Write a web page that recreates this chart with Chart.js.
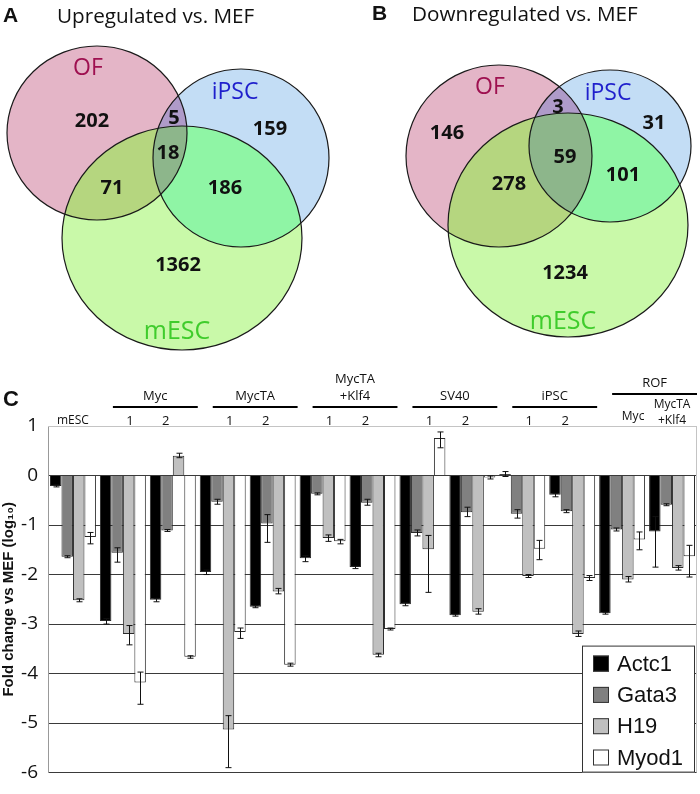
<!DOCTYPE html>
<html>
<head>
<meta charset="utf-8">
<script src="https://cdn.jsdelivr.net/npm/chart.js@4.4.1/dist/chart.umd.min.js"></script>
<style>
  html, body { margin: 0; padding: 0; background: #fff; }
  #wrap { position: relative; width: 700px; height: 794px; overflow: hidden; }
  canvas { position: absolute; }
  .t { position: absolute; white-space: nowrap; line-height: 24px; color: #111; }
  .panel { font-family: "Liberation Sans", Arial, sans-serif; font-weight: bold; font-size: 21px; }
  .title { font-family: "Open Sans", sans-serif; font-size: 20.7px; }
</style>
</head>
<body>
<div id="wrap">
  <canvas id="vennUp" style="left:0;top:0" width="350" height="370"></canvas>
  <canvas id="vennDown" style="left:350px;top:0" width="350" height="370"></canvas>
  <canvas id="bars" style="left:0;top:370px" width="700" height="424"></canvas>
  <div class="t panel" style="left:3px;top:3px">A</div>
  <div class="t title" style="left:57px;top:3px">Upregulated vs. MEF</div>
  <div class="t panel" style="left:372px;top:1px">B</div>
  <div class="t title" style="left:412px;top:1px">Downregulated vs. MEF</div>
</div>
<script>
// ---- Venn data (A: up, B: down) ----
const setNames = ["OF", "iPSC", "mESC"];
const regions = ["OF only", "iPSC only", "mESC only", "OF+iPSC", "OF+mESC", "iPSC+mESC", "all"];
const upCounts = [202, 159, 1362, 5, 71, 186, 18];
const downCounts = [146, 31, 1234, 3, 278, 101, 59];

// ---- bar chart data (log10 fold change vs MEF) ----
const groups = ["", "Myc", "Myc", "MycTA", "MycTA", "MycTA\n+Klf4", "MycTA\n+Klf4",
  "SV40", "SV40", "iPSC", "iPSC", "ROF", "ROF"];
const subLabels = ["mESC", "1", "2", "1", "2", "1", "2", "1", "2", "1", "2", "Myc", "MycTA\n+Klf4"];
const categories = subLabels.map((s, i) => (groups[i] + " " + s).trim());
const genes = ["Actc1", "Gata3", "H19", "Myod1"];
const actc1 = [-0.21, -2.94, -2.51, -1.95, -2.65, -1.67, -1.85, -2.6, -2.82, 0.03, -0.39, -2.78, -1.13];
const gata3 = [-1.64, -1.56, -1.11, -0.53, -0.97, -0.37, -0.55, -1.16, -0.74, -0.77, -0.72, -1.09, -0.59];
const h19 = [-2.52, -3.2, 0.4, -5.13, -2.34, -1.26, -3.62, -1.49, -2.75, -2.03, -3.2, -2.1, -1.87];
const myod1 = [-1.24, -4.18, -3.66, -3.16, -3.82, -1.33, -3.1, 0.76, -0.04, -1.48, -2.07, -1.29, -1.63];
// error bars as [below, above]
const errActc1 = [[0.02, 0.02], [0.06, 0.05], [0.04, 0.03], [0.05, 0.04], [0.02, 0.02], [0.07, 0.05],
  [0.03, 0.02], [0.03, 0.03], [0.02, 0.02], [0.05, 0.05], [0.04, 0.03], [0.02, 0.02], [0.72, 0.3]];
const errGata3 = [[0.02, 0.02], [0.19, 0.1], [0.02, 0.02], [0.05, 0.05], [0.38, 0.18], [0.02, 0.02],
  [0.05, 0.07], [0.06, 0.06], [0.09, 0.1], [0.09, 0.08], [0.03, 0.03], [0.03, 0.03], [0.02, 0.02]];
const errH19 = [[0.03, 0.03], [0.22, 0.17], [0.04, 0.05], [0.77, 0.28], [0.05, 0.06], [0.07, 0.06],
  [0.04, 0.03], [0.87, 0.28], [0.05, 0.06], [0.03, 0.03], [0.05, 0.06], [0.05, 0.06], [0.04, 0.05]];
const errMyod1 = [[0.14, 0.09], [0.44, 0.21], [0.03, 0.02], [0.13, 0.08], [0.03, 0.03], [0.05, 0.04],
  [0.02, 0.02], [0.2, 0.12], [0.03, 0.03], [0.22, 0.17], [0.05, 0.05], [0.21, 0.15], [0.42, 0.22]];

// ---- Venn layout (canvas units) ----
const upCircles = [{ x: 97, y: 133, rx: 90, ry: 87 }, { x: 241, y: 158, rx: 88, ry: 89 }, { x: 182, y: 238, rx: 120, ry: 112 }];
const downCircles = [{ x: 149, y: 156, rx: 93, ry: 91 }, { x: 260, y: 146, rx: 81, ry: 76 }, { x: 218, y: 225, rx: 120, ry: 112 }];
const upPos = [[92, 121], [270, 129], [178, 265], [174, 118], [112, 188], [225, 188], [168, 153]];
const downPos = [[97, 133], [304, 123], [215, 273], [208, 107], [159, 184], [273, 175], [215, 157]];
const upNamePos = [[88, 68], [235, 92], [177, 332]];
const downNamePos = [[140, 87], [258, 93], [213, 322]];

const setFill = ["#e4b5c7", "#c3ddf5", "#c9f9a9"];
const pairFill = { "01": "#af9bc9", "02": "#b5d67f", "12": "#8ff5a5" };
const allFill = "#8db68b";
const nameColor = ["#9e1050", "#1f1fcc", "#3fcc2c"];
const nameSize = [23, 23, 25];

function vennPlugin(circles, namePos) {
  return {
    id: "venn",
    beforeDatasetsDraw(chart) {
      const { ctx, scales: { x, y } } = chart;
      const shapes = circles.map(c => {
        const cx = x.getPixelForValue(c.x), cy = y.getPixelForValue(c.y);
        return {
          cx, cy,
          rx: x.getPixelForValue(c.x + c.rx) - cx,
          ry: y.getPixelForValue(c.y + c.ry) - cy
        };
      });
      const path = s => { ctx.beginPath(); ctx.ellipse(s.cx, s.cy, s.rx, s.ry, 0, 0, Math.PI * 2); };
      ctx.save();
      shapes.forEach((s, i) => { path(s); ctx.fillStyle = setFill[i]; ctx.fill(); });
      [[0, 1], [0, 2], [1, 2]].forEach(([a, b]) => {
        ctx.save(); path(shapes[a]); ctx.clip();
        path(shapes[b]); ctx.fillStyle = pairFill["" + a + b]; ctx.fill();
        ctx.restore();
      });
      ctx.save(); path(shapes[0]); ctx.clip(); path(shapes[1]); ctx.clip();
      path(shapes[2]); ctx.fillStyle = allFill; ctx.fill();
      ctx.restore();
      ctx.strokeStyle = "#1a1a1a"; ctx.lineWidth = 1.2;
      shapes.forEach(s => { path(s); ctx.stroke(); });
      ctx.textAlign = "center"; ctx.textBaseline = "middle";
      setNames.forEach((n, i) => {
        ctx.font = nameSize[i] + 'px "Open Sans", sans-serif';
        ctx.fillStyle = nameColor[i];
        ctx.fillText(n, x.getPixelForValue(namePos[i][0]), y.getPixelForValue(namePos[i][1]));
      });
      ctx.restore();
    },
    afterDatasetsDraw(chart) {
      const { ctx } = chart;
      const ds = chart.data.datasets[0];
      ctx.save();
      ctx.font = 'bold 20px "Open Sans", sans-serif';
      ctx.fillStyle = "#111"; ctx.textAlign = "center"; ctx.textBaseline = "middle";
      chart.getDatasetMeta(0).data.forEach((pt, i) => ctx.fillText(String(ds.data[i].n), pt.x, pt.y));
      ctx.restore();
    }
  };
}

function vennChart(id, circles, counts, pos, namePos) {
  return new Chart(document.getElementById(id), {
    type: "scatter",
    data: {
      datasets: [{
        label: "regions",
        data: pos.map((p, i) => ({ x: p[0], y: p[1], n: counts[i], region: regions[i] })),
        pointRadius: 0
      }]
    },
    options: {
      responsive: false,
      animation: false,
      layout: { padding: 0 },
      plugins: { legend: { display: false }, tooltip: { enabled: false } },
      scales: {
        x: { type: "linear", min: 0, max: 350, display: false },
        y: { type: "linear", min: 0, max: 370, reverse: true, display: false }
      }
    },
    plugins: [vennPlugin(circles, namePos)]
  });
}

vennChart("vennUp", upCircles, upCounts, upPos, upNamePos);
vennChart("vennDown", downCircles, downCounts, downPos, downNamePos);

// ---- bar chart ----
const barColors = ["#000000", "#808080", "#c0c0c0", "#ffffff"];
const values = [actc1, gata3, h19, myod1];
const errors = [errActc1, errGata3, errH19, errMyod1];

const errorBars = {
  id: "errorBars",
  afterDatasetsDraw(chart) {
    const { ctx } = chart;
    const y = chart.scales.y;
    ctx.save();
    ctx.strokeStyle = "#111"; ctx.lineWidth = 1;
    chart.data.datasets.forEach((ds, i) => {
      chart.getDatasetMeta(i).data.forEach((bar, j) => {
        const v = ds.data[j], [lo, hi] = ds.err[j];
        const x = Math.round(bar.x) + 0.5;
        const y1 = y.getPixelForValue(v + hi), y2 = y.getPixelForValue(v - lo);
        ctx.beginPath();
        ctx.moveTo(x, y1); ctx.lineTo(x, y2);
        ctx.moveTo(x - 3, y1); ctx.lineTo(x + 3, y1);
        ctx.moveTo(x - 3, y2); ctx.lineTo(x + 3, y2);
        ctx.stroke();
      });
    });
    ctx.restore();
  }
};

const headers = {
  id: "headers",
  afterDraw(chart) {
    const { ctx, chartArea: a } = chart;
    const x = chart.scales.x;
    const cw = x.getPixelForValue(1) - x.getPixelForValue(0);
    const top = a.top;
    ctx.save();
    ctx.fillStyle = "#111"; ctx.strokeStyle = "#000";
    ctx.textAlign = "center"; ctx.textBaseline = "middle";
    // frame
    ctx.lineWidth = 1; ctx.strokeStyle = "#c4c4c4";
    ctx.beginPath();
    ctx.moveTo(a.left, a.top + 0.5); ctx.lineTo(a.right, a.top + 0.5);
    ctx.moveTo(a.right - 0.5, a.top); ctx.lineTo(a.right - 0.5, a.bottom);
    ctx.stroke();
    ctx.strokeStyle = "#000";
    // panel letter
    ctx.font = 'bold 22px "Liberation Sans", Arial, sans-serif';
    ctx.textAlign = "left";
    ctx.fillText("C", 3, top - 26);
    ctx.textAlign = "center";
    // group headers
    let i = 0;
    while (i < groups.length) {
      let j = i;
      while (j + 1 < groups.length && groups[j + 1] === groups[i]) j++;
      if (groups[i]) {
        const tall = subLabels.slice(i, j + 1).some(s => s.includes("\n"));
        const x0 = x.getPixelForValue(i) - 0.2 * cw, x1 = x.getPixelForValue(j) + 0.5 * cw;
        const ly = tall ? top - 32 : top - 19;
        ctx.lineWidth = 2;
        ctx.beginPath(); ctx.moveTo(x0, ly); ctx.lineTo(x1, ly); ctx.stroke();
        ctx.font = '13px "Open Sans", sans-serif';
        const lines = groups[i].split("\n");
        lines.forEach((t, k) => {
          ctx.fillText(t, (x0 + x1) / 2, ly - 11 - (lines.length - 1 - k) * 17);
        });
      }
      i = j + 1;
    }
    // sub labels
    subLabels.forEach((s, k) => {
      const cx = x.getPixelForValue(k);
      const lines = s.split("\n");
      let dx = 0;
      if (s === "1") dx = 0.14 * cw;
      if (s === "2") dx = -0.14 * cw;
      if (s === "Myc") dx = 0.22 * cw;
      ctx.font = (s === "mESC" || s.length > 2 ? "12px" : "13px") + ' "Open Sans", sans-serif';
      const by = s === "Myc" ? top - 9 : top - 5;
      lines.forEach((t, m) => ctx.fillText(t, cx + dx, by - (lines.length - 1 - m) * 16));
    });
    // legend box
    const bw = 113, bh = 127;
    const bx = a.right - 2 - bw, by = a.bottom - bh;
    ctx.fillStyle = "#fff"; ctx.fillRect(bx, by, bw, bh);
    ctx.lineWidth = 1; ctx.strokeStyle = "#333";
    ctx.strokeRect(bx + 0.5, by + 0.5, bw - 1, bh - 1);
    ctx.font = '22px "Liberation Sans", Arial, sans-serif';
    ctx.textAlign = "left";
    chart.data.datasets.forEach((ds, k) => {
      const ry = by + 18 + k * 31.3;
      ctx.fillStyle = ds.backgroundColor;
      ctx.fillRect(bx + 11, ry - 8, 16, 16);
      ctx.strokeStyle = "#333";
      ctx.strokeRect(bx + 11.5, ry - 7.5, 15, 15);
      ctx.fillStyle = "#111";
      ctx.fillText(ds.label, bx + 35, ry + 1);
    });
    ctx.restore();
  }
};

new Chart(document.getElementById("bars"), {
  type: "bar",
  data: {
    labels: categories,
    datasets: genes.map((g, k) => ({
      label: g,
      data: values[k],
      err: errors[k],
      backgroundColor: barColors[k],
      borderColor: "#2a2a2a",
      borderWidth: 1,
      categoryPercentage: 0.92,
      barPercentage: 1
    }))
  },
  options: {
    responsive: false,
    animation: false,
    layout: { padding: { left: 0, right: 3, top: 56, bottom: 7 } },
    plugins: { legend: { display: false }, tooltip: { enabled: false } },
    scales: {
      x: { display: false, offset: true },
      y: {
        min: -6,
        max: 1,
        ticks: { stepSize: 1, padding: 10, color: "#111", font: { family: "Open Sans", size: 19 } },
        grid: {
          color: c => (c.tick && c.tick.value === 1 ? "#c4c4c4" : "#3a3a3a"),
          lineWidth: 1,
          drawTicks: false
        },
        border: { display: true, color: "#999" },
        title: {
          display: true,
          text: "Fold change vs MEF (log₁₀)",
          color: "#111",
          padding: 0,
          font: { family: "Liberation Sans", weight: "bold", size: 15 }
        },
        afterFit: s => { s.width = 48; }
      }
    }
  },
  plugins: [errorBars, headers]
});
</script>
</body>
</html>
